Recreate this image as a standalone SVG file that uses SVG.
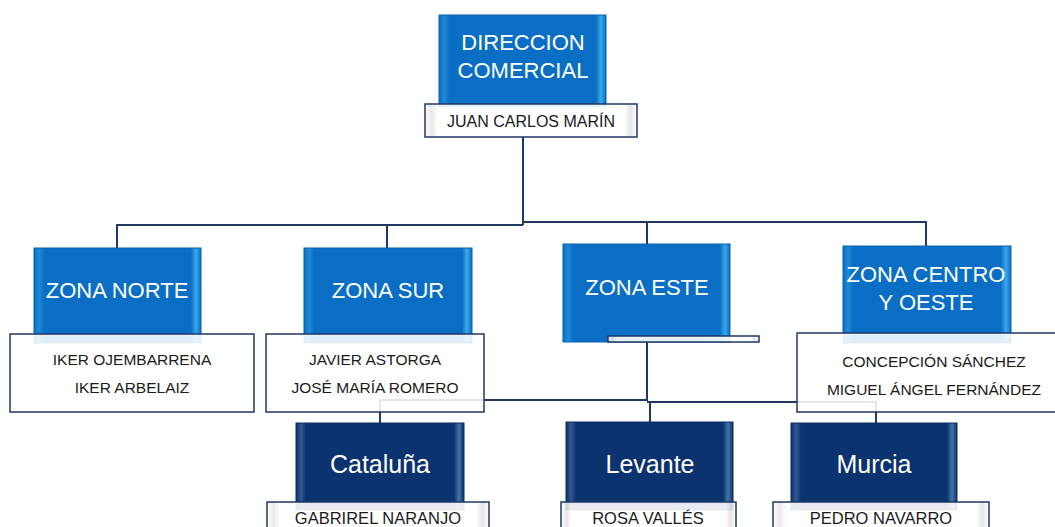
<svg xmlns="http://www.w3.org/2000/svg" width="1055" height="527" viewBox="0 0 1055 527">
<defs>
<linearGradient id="gBlue" x1="0" y1="0" x2="1" y2="0">
<stop offset="0" stop-color="#0a6cc0"/>
<stop offset="0.03" stop-color="#1f8ad8"/>
<stop offset="0.06" stop-color="#0a6fc4"/>
<stop offset="0.94" stop-color="#0a6fc4"/>
<stop offset="0.97" stop-color="#3aa8ec"/>
<stop offset="1" stop-color="#0a6cc0"/>
</linearGradient>
<linearGradient id="gNavy" x1="0" y1="0" x2="1" y2="0">
<stop offset="0" stop-color="#0b3069"/>
<stop offset="0.03" stop-color="#33598f"/>
<stop offset="0.06" stop-color="#0b336f"/>
<stop offset="0.94" stop-color="#0b336f"/>
<stop offset="0.97" stop-color="#4a73aa"/>
<stop offset="1" stop-color="#0b3069"/>
</linearGradient>
<linearGradient id="gName" x1="0" y1="0" x2="1" y2="0">
<stop offset="0" stop-color="#ffffff"/>
<stop offset="0.03" stop-color="#e6e6e6"/>
<stop offset="0.06" stop-color="#ffffff"/>
<stop offset="0.94" stop-color="#ffffff"/>
<stop offset="0.97" stop-color="#e2e2e2"/>
<stop offset="1" stop-color="#ffffff"/>
</linearGradient>
</defs>
<style>
.conn{fill:none;stroke:#1f3864;stroke-width:2}
.blue{fill:url(#gBlue);stroke:#0a62b0;stroke-width:1}
.navy{fill:url(#gNavy);stroke:#0a2c5e;stroke-width:1}
.info{fill:#ffffff;fill-opacity:0.88;stroke:#1f3864;stroke-width:1.5}
.name{fill:url(#gName);fill-opacity:0.9;stroke:#1f3864;stroke-width:1.5}
.t{font-family:"Liberation Sans",Arial,sans-serif;text-anchor:middle}
.tw{fill:#ffffff;font-size:22px}
.tl{fill:#ffffff;font-size:25px}
.tk{fill:#1a1a1a;font-size:15.5px}
.tn{fill:#1a1a1a;font-size:16.5px}
</style>
<rect width="1055" height="527" fill="#ffffff"/>
<g id="connectors">
<path class="conn" d="M523,137 V225"/>
<path class="conn" d="M117,248 V225 H523"/>
<path class="conn" d="M387,248 V225"/>
<path class="conn" d="M523,222 H926 V246"/>
<path class="conn" d="M647,222 V244"/>
<path class="conn" d="M647,342 V401"/>
<path class="conn" d="M380,423 V400 H647"/>
<path class="conn" d="M647,402 H876 V423"/>
<path class="conn" d="M650,402 V422"/>
</g>
<g id="direccion">
<rect class="blue" x="439" y="15" width="167" height="92"/>
<text class="t tw" x="523" y="50">DIRECCION</text>
<text class="t tw" x="523" y="78">COMERCIAL</text>
<rect class="name" x="425" y="104" width="212" height="33"/>
<text class="t" x="531" y="127" style="fill:#1a1a1a;font-size:16px">JUAN CARLOS MARÍN</text>
</g>
<g id="zona-norte">
<rect class="blue" x="34" y="248" width="167" height="95"/>
<text class="t tw" x="117" y="298">ZONA NORTE</text>
<rect class="info" x="10" y="334" width="244" height="78"/>
<text class="t tk" x="132" y="365">IKER OJEMBARRENA</text>
<text class="t tk" x="132" y="393">IKER ARBELAIZ</text>
</g>
<g id="zona-sur">
<rect class="blue" x="304" y="248" width="168" height="95"/>
<text class="t tw" x="388" y="298">ZONA SUR</text>
<rect class="info" x="266" y="334" width="218" height="78"/>
<text class="t tk" x="375" y="365">JAVIER ASTORGA</text>
<text class="t tk" x="375" y="393">JOSÉ MARÍA ROMERO</text>
</g>
<g id="zona-este">
<rect class="blue" x="563" y="244" width="167" height="98"/>
<text class="t tw" x="647" y="295">ZONA ESTE</text>
<rect class="name" x="608" y="336" width="151" height="6"/>
</g>
<g id="zona-centro-oeste">
<rect class="blue" x="843" y="246" width="168" height="97"/>
<text class="t tw" x="926" y="282">ZONA CENTRO</text>
<text class="t tw" x="926" y="310">Y OESTE</text>
<rect class="info" x="797" y="333" width="280" height="79"/>
<text class="t tk" x="934" y="367">CONCEPCIÓN SÁNCHEZ</text>
<text class="t tk" x="934" y="395">MIGUEL ÁNGEL FERNÁNDEZ</text>
</g>
<g id="cataluna">
<rect class="navy" x="296" y="423" width="168" height="87"/>
<text class="t tl" x="380" y="473">Cataluña</text>
<rect class="name" x="267" y="502" width="222" height="40"/>
<text class="t tn" x="378" y="524">GABRIREL NARANJO</text>
</g>
<g id="levante">
<rect class="navy" x="566" y="422" width="167" height="88"/>
<text class="t tl" x="650" y="473">Levante</text>
<rect class="name" x="561" y="502" width="175" height="40"/>
<text class="t tn" x="648" y="524">ROSA VALLÉS</text>
</g>
<g id="murcia">
<rect class="navy" x="791" y="423" width="166" height="87"/>
<text class="t tl" x="874" y="473">Murcia</text>
<rect class="name" x="773" y="502" width="216" height="40"/>
<text class="t tn" x="881" y="524">PEDRO NAVARRO</text>
</g>
</svg>
